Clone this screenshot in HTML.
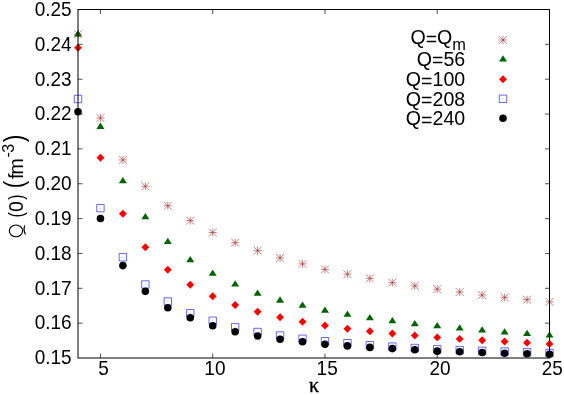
<!DOCTYPE html>
<html><head><meta charset="utf-8"><title>plot</title>
<style>
html,body{margin:0;padding:0;background:#fff;}
body{width:564px;height:395px;overflow:hidden;font-family:"Liberation Sans",sans-serif;}
svg{display:block;will-change:transform;}
text{font-family:"Liberation Sans",sans-serif;font-size:19.6px;fill:#000;}
.sym{font-family:"Liberation Serif",serif;}
</style></head><body>
<svg width="564" height="395" viewBox="0 0 564 395">
<rect width="564" height="395" fill="#fff"/>

<g fill="none" stroke="#a52a2a" stroke-width="0.6">
<path d="M74.05 34.2H81.95M78 30.25V38.15M74.05 30.25L81.95 38.15M74.05 38.15L81.95 30.25"/>
<path d="M96.5 118H104.4M100.45 114.05V121.95M96.5 114.05L104.4 121.95M96.5 121.95L104.4 114.05"/>
<path d="M118.95 159.95H126.85M122.9 156V163.9M118.95 156L126.85 163.9M118.95 163.9L126.85 156"/>
<path d="M141.41 186.25H149.31M145.36 182.3V190.2M141.41 182.3L149.31 190.2M141.41 190.2L149.31 182.3"/>
<path d="M163.86 205.75H171.76M167.81 201.8V209.7M163.86 201.8L171.76 209.7M163.86 209.7L171.76 201.8"/>
<path d="M186.31 220.6H194.21M190.26 216.65V224.55M186.31 216.65L194.21 224.55M186.31 224.55L194.21 216.65"/>
<path d="M208.76 232.5H216.66M212.71 228.55V236.45M208.76 228.55L216.66 236.45M208.76 236.45L216.66 228.55"/>
<path d="M231.22 242.65H239.12M235.17 238.7V246.6M231.22 238.7L239.12 246.6M231.22 246.6L239.12 238.7"/>
<path d="M253.67 250.65H261.57M257.62 246.7V254.6M253.67 246.7L261.57 254.6M253.67 254.6L261.57 246.7"/>
<path d="M276.12 257.9H284.02M280.07 253.95V261.85M276.12 253.95L284.02 261.85M276.12 261.85L284.02 253.95"/>
<path d="M298.57 263.9H306.47M302.52 259.95V267.85M298.57 259.95L306.47 267.85M298.57 267.85L306.47 259.95"/>
<path d="M321.03 269.4H328.93M324.98 265.45V273.35M321.03 265.45L328.93 273.35M321.03 273.35L328.93 265.45"/>
<path d="M343.48 274.15H351.38M347.43 270.2V278.1M343.48 270.2L351.38 278.1M343.48 278.1L351.38 270.2"/>
<path d="M365.93 278.4H373.83M369.88 274.45V282.35M365.93 274.45L373.83 282.35M365.93 282.35L373.83 274.45"/>
<path d="M388.38 282.65H396.28M392.33 278.7V286.6M388.38 278.7L396.28 286.6M388.38 286.6L396.28 278.7"/>
<path d="M410.84 285.9H418.74M414.79 281.95V289.85M410.84 281.95L418.74 289.85M410.84 289.85L418.74 281.95"/>
<path d="M433.29 289.15H441.19M437.24 285.2V293.1M433.29 285.2L441.19 293.1M433.29 293.1L441.19 285.2"/>
<path d="M455.74 292.05H463.64M459.69 288.1V296M455.74 288.1L463.64 296M455.74 296L463.64 288.1"/>
<path d="M478.19 295.05H486.09M482.14 291.1V299M478.19 291.1L486.09 299M478.19 299L486.09 291.1"/>
<path d="M500.65 297.4H508.55M504.6 293.45V301.35M500.65 293.45L508.55 301.35M500.65 301.35L508.55 293.45"/>
<path d="M523.1 299.65H531M527.05 295.7V303.6M523.1 295.7L531 303.6M523.1 303.6L531 295.7"/>
<path d="M545.55 301.9H553.45M549.5 297.95V305.85M545.55 297.95L553.45 305.85M545.55 305.85L553.45 297.95"/>
<path d="M499.05 40H506.95M503 36.05V43.95M499.05 36.05L506.95 43.95M499.05 43.95L506.95 36.05"/>
</g>
<g fill="#006400" stroke="none">
<path d="M78 30.25L74 36.55H82Z"/>
<path d="M100.45 122.6L96.45 128.9H104.45Z"/>
<path d="M122.9 177.05L118.9 183.35H126.9Z"/>
<path d="M145.36 213.05L141.36 219.35H149.36Z"/>
<path d="M167.81 237.8L163.81 244.1H171.81Z"/>
<path d="M190.26 256.05L186.26 262.35H194.26Z"/>
<path d="M212.71 269.55L208.71 275.85H216.71Z"/>
<path d="M235.17 280.3L231.17 286.6H239.17Z"/>
<path d="M257.62 289.4L253.62 295.7H261.62Z"/>
<path d="M280.07 296.35L276.07 302.65H284.07Z"/>
<path d="M302.52 301.55L298.52 307.85H306.52Z"/>
<path d="M324.98 306.55L320.98 312.85H328.98Z"/>
<path d="M347.43 310.55L343.43 316.85H351.43Z"/>
<path d="M369.88 314.05L365.88 320.35H373.88Z"/>
<path d="M392.33 317.05L388.33 323.35H396.33Z"/>
<path d="M414.79 320.05L410.79 326.35H418.79Z"/>
<path d="M437.24 322.05L433.24 328.35H441.24Z"/>
<path d="M459.69 324.3L455.69 330.6H463.69Z"/>
<path d="M482.14 326.3L478.14 332.6H486.14Z"/>
<path d="M504.6 328.15L500.6 334.45H508.6Z"/>
<path d="M527.05 329.75L523.05 336.05H531.05Z"/>
<path d="M549.5 331.15L545.5 337.45H553.5Z"/>
<path d="M503 55.15L499 61.45H507Z"/>
</g>
<g fill="#ff0000" stroke="none">
<path d="M78 43.75L81.95 47.7L78 51.65L74.05 47.7Z"/>
<path d="M100.45 153.85L104.4 157.8L100.45 161.75L96.5 157.8Z"/>
<path d="M122.9 209.8L126.85 213.75L122.9 217.7L118.95 213.75Z"/>
<path d="M145.36 243.3L149.31 247.25L145.36 251.2L141.41 247.25Z"/>
<path d="M167.81 265.8L171.76 269.75L167.81 273.7L163.86 269.75Z"/>
<path d="M190.26 280.8L194.21 284.75L190.26 288.7L186.31 284.75Z"/>
<path d="M212.71 292.3L216.66 296.25L212.71 300.2L208.76 296.25Z"/>
<path d="M235.17 301.05L239.12 305L235.17 308.95L231.22 305Z"/>
<path d="M257.62 307.8L261.57 311.75L257.62 315.7L253.67 311.75Z"/>
<path d="M280.07 313.3L284.02 317.25L280.07 321.2L276.12 317.25Z"/>
<path d="M302.52 317.75L306.47 321.7L302.52 325.65L298.57 321.7Z"/>
<path d="M324.98 321.55L328.93 325.5L324.98 329.45L321.03 325.5Z"/>
<path d="M347.43 324.8L351.38 328.75L347.43 332.7L343.48 328.75Z"/>
<path d="M369.88 327.3L373.83 331.25L369.88 335.2L365.93 331.25Z"/>
<path d="M392.33 329.55L396.28 333.5L392.33 337.45L388.38 333.5Z"/>
<path d="M414.79 331.55L418.74 335.5L414.79 339.45L410.84 335.5Z"/>
<path d="M437.24 333.45L441.19 337.4L437.24 341.35L433.29 337.4Z"/>
<path d="M459.69 334.95L463.64 338.9L459.69 342.85L455.74 338.9Z"/>
<path d="M482.14 336.3L486.09 340.25L482.14 344.2L478.19 340.25Z"/>
<path d="M504.6 337.6L508.55 341.55L504.6 345.5L500.65 341.55Z"/>
<path d="M527.05 338.85L531 342.8L527.05 346.75L523.1 342.8Z"/>
<path d="M549.5 339.95L553.45 343.9L549.5 347.85L545.55 343.9Z"/>
<path d="M503 75.3L506.95 79.25L503 83.2L499.05 79.25Z"/>
</g>
<g fill="none" stroke="#0000ff" stroke-width="0.6">
<path d="M74.3 95.3h7.4v7.4h-7.4Z"/><circle cx="78" cy="99" r="0.35" fill="#0000ff" stroke="none"/>
<path d="M96.75 204.45h7.4v7.4h-7.4Z"/><circle cx="100.45" cy="208.15" r="0.35" fill="#0000ff" stroke="none"/>
<path d="M119.2 253.55h7.4v7.4h-7.4Z"/><circle cx="122.9" cy="257.25" r="0.35" fill="#0000ff" stroke="none"/>
<path d="M141.66 280.8h7.4v7.4h-7.4Z"/><circle cx="145.36" cy="284.5" r="0.35" fill="#0000ff" stroke="none"/>
<path d="M164.11 297.8h7.4v7.4h-7.4Z"/><circle cx="167.81" cy="301.5" r="0.35" fill="#0000ff" stroke="none"/>
<path d="M186.56 309.55h7.4v7.4h-7.4Z"/><circle cx="190.26" cy="313.25" r="0.35" fill="#0000ff" stroke="none"/>
<path d="M209.01 317.05h7.4v7.4h-7.4Z"/><circle cx="212.71" cy="320.75" r="0.35" fill="#0000ff" stroke="none"/>
<path d="M231.47 323.55h7.4v7.4h-7.4Z"/><circle cx="235.17" cy="327.25" r="0.35" fill="#0000ff" stroke="none"/>
<path d="M253.92 328.3h7.4v7.4h-7.4Z"/><circle cx="257.62" cy="332" r="0.35" fill="#0000ff" stroke="none"/>
<path d="M276.37 331.8h7.4v7.4h-7.4Z"/><circle cx="280.07" cy="335.5" r="0.35" fill="#0000ff" stroke="none"/>
<path d="M298.82 335.05h7.4v7.4h-7.4Z"/><circle cx="302.52" cy="338.75" r="0.35" fill="#0000ff" stroke="none"/>
<path d="M321.28 337.5h7.4v7.4h-7.4Z"/><circle cx="324.98" cy="341.2" r="0.35" fill="#0000ff" stroke="none"/>
<path d="M343.73 339.5h7.4v7.4h-7.4Z"/><circle cx="347.43" cy="343.2" r="0.35" fill="#0000ff" stroke="none"/>
<path d="M366.18 341.5h7.4v7.4h-7.4Z"/><circle cx="369.88" cy="345.2" r="0.35" fill="#0000ff" stroke="none"/>
<path d="M388.63 342.9h7.4v7.4h-7.4Z"/><circle cx="392.33" cy="346.6" r="0.35" fill="#0000ff" stroke="none"/>
<path d="M411.09 344.3h7.4v7.4h-7.4Z"/><circle cx="414.79" cy="348" r="0.35" fill="#0000ff" stroke="none"/>
<path d="M433.54 345.6h7.4v7.4h-7.4Z"/><circle cx="437.24" cy="349.3" r="0.35" fill="#0000ff" stroke="none"/>
<path d="M455.99 346.4h7.4v7.4h-7.4Z"/><circle cx="459.69" cy="350.1" r="0.35" fill="#0000ff" stroke="none"/>
<path d="M478.44 347.15h7.4v7.4h-7.4Z"/><circle cx="482.14" cy="350.85" r="0.35" fill="#0000ff" stroke="none"/>
<path d="M500.9 347.8h7.4v7.4h-7.4Z"/><circle cx="504.6" cy="351.5" r="0.35" fill="#0000ff" stroke="none"/>
<path d="M523.35 348.5h7.4v7.4h-7.4Z"/><circle cx="527.05" cy="352.2" r="0.35" fill="#0000ff" stroke="none"/>
<path d="M545.8 349.3h7.4v7.4h-7.4Z"/><circle cx="549.5" cy="353" r="0.35" fill="#0000ff" stroke="none"/>
<path d="M499.3 95.1h7.4v7.4h-7.4Z"/><circle cx="503" cy="98.8" r="0.35" fill="#0000ff" stroke="none"/>
</g>
<g fill="#000000" stroke="none">
<circle cx="78" cy="111.8" r="3.78"/>
<circle cx="100.45" cy="218.55" r="3.78"/>
<circle cx="122.9" cy="265.6" r="3.78"/>
<circle cx="145.36" cy="291.35" r="3.78"/>
<circle cx="167.81" cy="307.8" r="3.78"/>
<circle cx="190.26" cy="317.8" r="3.78"/>
<circle cx="212.71" cy="325.8" r="3.78"/>
<circle cx="235.17" cy="331.8" r="3.78"/>
<circle cx="257.62" cy="336.05" r="3.78"/>
<circle cx="280.07" cy="339.3" r="3.78"/>
<circle cx="302.52" cy="341.8" r="3.78"/>
<circle cx="324.98" cy="344.3" r="3.78"/>
<circle cx="347.43" cy="345.9" r="3.78"/>
<circle cx="369.88" cy="347.4" r="3.78"/>
<circle cx="392.33" cy="348.6" r="3.78"/>
<circle cx="414.79" cy="349.8" r="3.78"/>
<circle cx="437.24" cy="351.15" r="3.78"/>
<circle cx="459.69" cy="351.8" r="3.78"/>
<circle cx="482.14" cy="352.5" r="3.78"/>
<circle cx="504.6" cy="353.2" r="3.78"/>
<circle cx="527.05" cy="353.8" r="3.78"/>
<circle cx="549.5" cy="354.3" r="3.78"/>
<circle cx="503" cy="118.2" r="3.78"/>
</g>
<g fill="none" stroke="#000" stroke-width="0.7">
<path d="M78 323.15h4.5M549.5 323.15h-4.5M78 288.3h4.5M549.5 288.3h-4.5M78 253.45h4.5M549.5 253.45h-4.5M78 218.6h4.5M549.5 218.6h-4.5M78 183.75h4.5M549.5 183.75h-4.5M78 148.9h4.5M549.5 148.9h-4.5M78 114.05h4.5M549.5 114.05h-4.5M78 79.2h4.5M549.5 79.2h-4.5M78 44.35h4.5M549.5 44.35h-4.5M100.45 358v-4.5M100.45 9.5v4.5M212.71 358v-4.5M212.71 9.5v4.5M324.98 358v-4.5M324.98 9.5v4.5M437.24 358v-4.5M437.24 9.5v4.5"/>
</g>
<rect x="78" y="9.5" width="471.5" height="348.5" fill="none" stroke="#000" stroke-width="1"/>
<g text-anchor="end">
<text transform="translate(71.6,364.3) scale(1,1.04)" style="font-size:19px">0.15</text>
<text transform="translate(71.6,329.45) scale(1,1.04)" style="font-size:19px">0.16</text>
<text transform="translate(71.6,294.6) scale(1,1.04)" style="font-size:19px">0.17</text>
<text transform="translate(71.6,259.75) scale(1,1.04)" style="font-size:19px">0.18</text>
<text transform="translate(71.6,224.9) scale(1,1.04)" style="font-size:19px">0.19</text>
<text transform="translate(71.6,190.05) scale(1,1.04)" style="font-size:19px">0.20</text>
<text transform="translate(71.6,155.2) scale(1,1.04)" style="font-size:19px">0.21</text>
<text transform="translate(71.6,120.35) scale(1,1.04)" style="font-size:19px">0.22</text>
<text transform="translate(71.6,85.5) scale(1,1.04)" style="font-size:19px">0.23</text>
<text transform="translate(71.6,50.65) scale(1,1.04)" style="font-size:19px">0.24</text>
<text transform="translate(71.6,15.8) scale(1,1.04)" style="font-size:19px">0.25</text>
</g>
<g text-anchor="middle">
<text transform="translate(103.45,374.9) scale(1,1.04)" style="font-size:19px">5</text>
<text transform="translate(214.91,374.9) scale(1,1.04)" style="font-size:19px">10</text>
<text transform="translate(327.18,374.9) scale(1,1.04)" style="font-size:19px">15</text>
<text transform="translate(440.04,374.9) scale(1,1.04)" style="font-size:19px">20</text>
<text transform="translate(552.3,374.9) scale(1,1.04)" style="font-size:19px">25</text>
</g>
<text class="sym" x="314.1" y="391.7" text-anchor="middle" style="font-size:20px;stroke:#000;stroke-width:0.35px">κ</text>
<g transform="translate(23,250) rotate(-90)">
<text transform="translate(33.6,0) scale(0.813,1)" x="-1.21" y="0" style="font-size:19.5px">(</text>
<text transform="translate(38.74,0) scale(1.000,1)" x="-0.76" y="0" style="font-size:19.5px">0</text>
<text transform="translate(50.4,0) scale(0.793,1)" x="-0.12" y="0" style="font-size:19.5px">)</text>
<text transform="translate(63.1,0) scale(0.801,1)" x="-1.72" y="0" style="font-size:27.8px">(</text>
<text transform="translate(71.37,0) scale(1.000,1)" x="-0.27" y="0" style="font-size:19.5px">f</text>
<text transform="translate(76.82,0) scale(1.000,1)" x="-1.29" y="0" style="font-size:19.5px">m</text>
<text transform="translate(93.15,-9.6) scale(1.000,1)" x="-0.7" y="0" style="font-size:16px">-</text>
<text transform="translate(97.96,-9.1) scale(1.000,1)" x="-0.61" y="0" style="font-size:16px">3</text>
<text transform="translate(108,0) scale(0.787,1)" x="-0.17" y="0" style="font-size:27.8px">)</text>
</g>
<ellipse cx="15.97" cy="230.86" rx="6.69" ry="5.85" fill="none" stroke="#000" stroke-width="1.1"/>
<path d="M24.4 224.9Q21.9 230.4 25.4 234.9L25.9 234.6Q23.9 230.4 25 225.1Z" fill="#000"/>
<g text-anchor="end">
<text transform="translate(466.0,43.9) scale(1,1.03)">Q<tspan dy="1.7">=</tspan><tspan dy="-1.7">Q</tspan><tspan dy="6.4" style="font-size:16.4px">m</tspan></text>
<text transform="translate(465.2,65.7) scale(1,1.03)">Q<tspan dy="1.7">=</tspan><tspan dy="-1.7">56</tspan></text>
<text transform="translate(465.2,85.9) scale(1,1.03)">Q<tspan dy="1.7">=</tspan><tspan dy="-1.7">100</tspan></text>
<text transform="translate(465.2,105.5) scale(1,1.03)">Q<tspan dy="1.7">=</tspan><tspan dy="-1.7">208</tspan></text>
<text transform="translate(465.2,125.35) scale(1,1.03)">Q<tspan dy="1.7">=</tspan><tspan dy="-1.7">240</tspan></text>
</g>
</svg>
</body></html>
